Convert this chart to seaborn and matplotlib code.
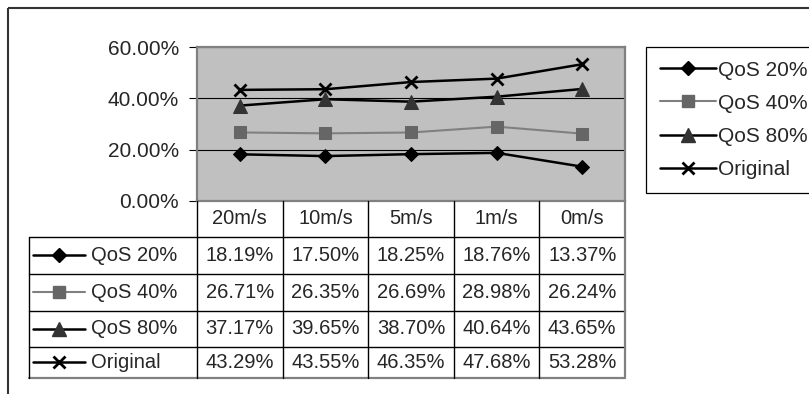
import numpy as np
import pandas as pd
import matplotlib
matplotlib.use("Agg")
import matplotlib.pyplot as plt
import matplotlib.transforms as mtransforms
import seaborn as sns
from matplotlib.lines import Line2D
from matplotlib.patches import Rectangle
from matplotlib.ticker import PercentFormatter

speeds = ["20m/s", "10m/s", "5m/s", "1m/s", "0m/s"]
series = ["QoS 20%", "QoS 40%", "QoS 80%", "Original"]
qos20 = [18.19, 17.50, 18.25, 18.76, 13.37]
qos40 = [26.71, 26.35, 26.69, 28.98, 26.24]
qos80 = [37.17, 39.65, 38.70, 40.64, 43.65]
original = [43.29, 43.55, 46.35, 47.68, 53.28]
values = [qos20, qos40, qos80, original]

# line / marker styling per series
styles = {
    "QoS 20%": dict(color="black", marker="D", markerfacecolor="black", markeredgecolor="black", markersize=7.5, lw=1.8),
    "QoS 40%": dict(color="#808080", marker="s", markerfacecolor="#666666", markeredgecolor="#666666", markersize=8.5, lw=1.5),
    "QoS 80%": dict(color="black", marker="^", markerfacecolor="#333333", markeredgecolor="#333333", markersize=9.5, lw=1.8),
    "Original": dict(color="black", marker="x", markerfacecolor="black", markeredgecolor="black", markersize=9, markeredgewidth=2, lw=1.8),
}

sns.set_style("white")
plt.rcParams["font.family"] = ["Liberation Sans", "DejaVu Sans"]

W, H = 809, 394
fig = plt.figure(figsize=(W / 100, H / 100), dpi=100)
# pixel transform (origin top-left)
px = mtransforms.Affine2D().scale(1 / W, -1 / H).translate(0, 1) + fig.transFigure

ax_l, ax_r, ax_t, ax_b = 197, 625, 47, 201
ax = fig.add_axes([ax_l / W, 1 - ax_b / H, (ax_r - ax_l) / W, (ax_b - ax_t) / H])
ax.set_facecolor("#c0c0c0")

for name, vals in zip(series, values):
    sns.lineplot(x=speeds, y=vals, ax=ax, label=name, **styles[name])

ax.set_xlim(-0.5, len(speeds) - 0.5)
ax.set_ylim(0, 60)
ax.set_yticks([0, 20, 40, 60])
ax.yaxis.set_major_formatter(PercentFormatter(xmax=100, decimals=2))
ax.set_xticks([])
ax.set_xlabel("")
ax.set_ylabel("")
ax.grid(axis="y", color="black", lw=0.8)
ax.grid(axis="x", visible=False)
for s in ax.spines.values():
    s.set_visible(True)
    s.set_color("#808080")
    s.set_linewidth(1.6)
ax.tick_params(axis="y", direction="out", length=6, width=0.8, color="black",
               pad=7, labelsize=15, left=True)

# legend on the right
handles = [Line2D([], [], **styles[n]) for n in series]
ax.legend(handles, series, loc="upper left", bbox_to_anchor=(646 / W, 1 - 47 / H),
          bbox_transform=fig.transFigure, frameon=True, fancybox=False,
          edgecolor="black", framealpha=1, borderaxespad=0, fontsize=15,
          handlelength=2.7, handletextpad=0.1, borderpad=0.65, labelspacing=0.68)
ax.get_legend().get_frame().set_linewidth(0.9)

# data table under the plot
col_edges = [ax_l + i * (ax_r - ax_l) / len(speeds) for i in range(len(speeds) + 1)]
row_edges = [201, 237, 274, 311, 347, 378]
lab_left = 29
cellx = mtransforms.blended_transform_factory(ax.transData, px)

def hline(x0, x1, y, c="black", lw=1.0):
    fig.add_artist(Line2D([x0, x1], [y, y], transform=px, color=c, lw=lw))

def vline(x, y0, y1, c="black", lw=1.0):
    fig.add_artist(Line2D([x, x], [y0, y1], transform=px, color=c, lw=lw))

for y in row_edges[1:-1]:
    hline(lab_left, ax_r, y)
hline(lab_left, ax_r, row_edges[-1], c="#808080", lw=1.6)
vline(lab_left, row_edges[1], row_edges[-1])
for x in col_edges[:-1]:
    vline(x, row_edges[0], row_edges[-1])
vline(col_edges[-1], row_edges[0], row_edges[-1], c="#808080", lw=1.6)

mids = [(row_edges[i] + row_edges[i + 1]) / 2 for i in range(len(row_edges) - 1)]
for i, sp in enumerate(speeds):
    fig.text(i, mids[0], sp, transform=cellx, ha="center", va="center", fontsize=14.5)
for r, (name, vals) in enumerate(zip(series, values)):
    y = mids[r + 1]
    st = dict(styles[name])
    fig.add_artist(Line2D([33, 59, 85], [y, y, y], transform=px, markevery=[1], **st))
    fig.text(91, y, name, transform=px, ha="left", va="center", fontsize=14.5)
    for i, v in enumerate(vals):
        fig.text(i, y, f"{v:.2f}%", transform=cellx, ha="center", va="center", fontsize=14.5)

# outer chart frame
fig.add_artist(Rectangle((8, 8), 1000, 1000, transform=px, fill=False,
                         edgecolor="#333333", lw=1.5))

fig.savefig("out.png", dpi=100)
